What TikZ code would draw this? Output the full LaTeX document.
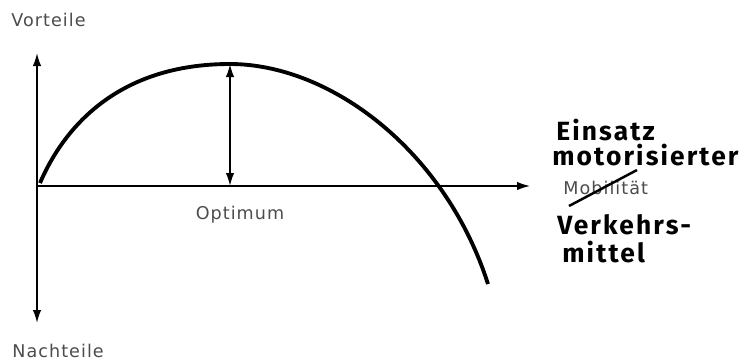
\documentclass[tikz,border=0pt]{standalone}
\usepackage{fontspec}
\setmainfont{DejaVu Sans}[LetterSpace=6]
\newfontfamily\handfont{Fira Sans}[LetterSpace=8]
\usetikzlibrary{arrows.meta}

\begin{document}
\begin{tikzpicture}[
    x=0.02cm, y=-0.02cm,
    axis/.style={line width=1pt,-{Latex[length=2.6mm,width=1.7mm]}},
    printed/.style={text=black!70,font=\fontsize{10}{11}\selectfont,inner sep=0pt},
    hand/.style={font=\handfont\bfseries\fontsize{15}{16}\selectfont,inner sep=0pt,anchor=west},
    curve/.style={line width=2.2pt}
]
\useasboundingbox (0,0) rectangle (752,363);

% Achsen
\coordinate (O) at (37,186);
\coordinate (top) at (37,53);
\coordinate (bot) at (37,323);
\coordinate (right) at (530,186);
\draw[axis] (O) -- (top);
\draw[axis] (O) -- (bot);
\draw[line width=0.8pt,-{Latex[length=2.6mm,width=1.7mm]}] (O) -- (right);

% Kurve
\coordinate (start) at (40,183);
\coordinate (peak) at (230,64);
\coordinate (end) at (488,284);
\draw[curve] (start) .. controls (65,125) and (120,64) .. (peak)
                     .. controls (330,64) and (445,150) .. (end);

% Abstand zum Optimum
\coordinate (foot) at (230,186);
\draw[line width=1pt,{Latex[length=2.6mm,width=1.7mm]}-{Latex[length=2.6mm,width=1.7mm]}] (foot) -- (peak);

% Beschriftungen
\node[printed,anchor=west] (vorteile) at (11,20) {Vorteile};
\node[printed,anchor=west] (nachteile) at (12,351) {Nachteile};
\node[printed] (optimum) at (240,215) {Optimum};
\node[printed,anchor=west] (mobil) at (563,188) {Mobilität};
\coordinate (s1) at (569,206);
\coordinate (s2) at (637,170);
\draw[line width=1.4pt] (s1) -- (s2);

% handschriftlich
\node[hand] (einsatz) at (556,130) {Einsatz};
\node[hand] (motor) at (552,155) {motorisierter};
\node[hand] (verkehr) at (557,225) {Verkehrs-};
\node[hand] (mittel) at (562,252) {mittel};

\end{tikzpicture}
\end{document}
